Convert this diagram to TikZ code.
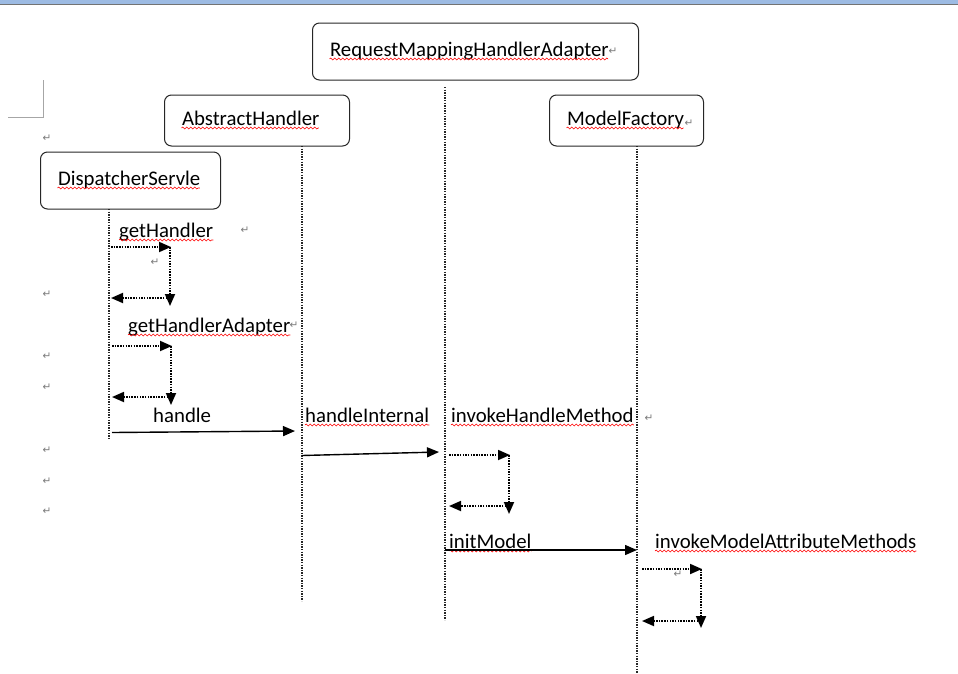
\documentclass[tikz,border=0pt]{standalone}
\usepackage{fontspec}
\setmainfont{Carlito}
\newfontfamily\markfont{DejaVu Sans}
\usetikzlibrary{arrows.meta,decorations.pathmorphing}
\definecolor{barblue}{HTML}{9DBBE3}
\definecolor{markgray}{HTML}{7A7A7A}
\tikzset{
  objbox/.style={draw=black!85, line width=1pt, rounded corners=7pt, anchor=west, align=left,
    inner xsep=17.5pt, text height=14pt, text depth=5pt, text width=#1},
  msg/.style={inner sep=0pt, anchor=base west},
  life/.style={black!85, line width=1.3pt, dash pattern=on 1.3pt off 1.3pt},
  call/.style={-{Triangle[length=12pt,width=10pt]}, black, line width=1.4pt},
  selfcall/.style={-{Triangle[length=12pt,width=10pt]}, black, line width=1.8pt, dash pattern=on 1.5pt off 1.2pt},
  retmark/.style={markgray, font=\markfont\fontsize{10.5}{11}\selectfont, inner sep=0pt},
  spell/.style={red, line width=0.6pt, decorate, decoration={snake, segment length=4pt, amplitude=1pt}}
}
\begin{document}
\begin{tikzpicture}[x=1pt, y=-1pt]
  \fontsize{20.8}{25}\selectfont
  \useasboundingbox (0,0) rectangle (958,673);
  % window edge and page corner
  \fill[barblue] (0,0) rectangle (958,4);
  \draw[black!55, line width=1pt] (0,4.5) -- (958,4.5);
  \draw[black!35, line width=0.8pt] (43,80) -- (43,117) -- (8,117);

  % objects
  \node[objbox=291pt, minimum height=57pt] (rmha) at (312,51.5) {RequestMappingHandlerAdapter};
  \node[objbox=150pt, minimum height=51pt] (abst) at (164,120.5) {AbstractHandler};
  \node[objbox=119pt, minimum height=51pt] (mfac) at (549,120.5) {ModelFactory};
  \node[objbox=145pt, minimum height=57pt] (disp) at (40,180.5) {DispatcherServle};

  % lifelines
  \coordinate (dtop) at (109,209); \coordinate (dbot) at (109,438);
  \coordinate (atop) at (302,146); \coordinate (abot) at (302,601);
  \coordinate (rtop) at (445,87);  \coordinate (rbot) at (445,620);
  \coordinate (mtop) at (637,146); \coordinate (mbot) at (637,673);
  \draw[life] (dtop) -- (dbot);
  \draw[life] (atop) -- (abot);
  \draw[life] (rtop) -- (rbot);
  \draw[life] (mtop) -- (mbot);

  % message labels
  \node[msg] (gh) at (119,237) {getHandler};
  \node[msg] (gha) at (128,332) {getHandlerAdapter};
  \node[msg] (hd) at (153,422) {handle};
  \node[msg] (hi) at (305,422) {handleInternal};
  \node[msg] (ihm) at (451,422) {invokeHandleMethod};
  \node[msg] (im) at (449,548) {initModel};
  \node[msg] (imam) at (655,548) {invokeModelAttributeMethods};

  % spell check marks
  \foreach \n/\txt in {rmha/RequestMappingHandlerAdapter, abst/AbstractHandler, mfac/ModelFactory, disp/DispatcherServle}{
    \pgfmathsetmacro{\w}{width("\txt")}
    \draw[spell] ([xshift=17.5pt, yshift=-3pt]\n.base west) -- ++(\w pt, 0);
  }
  \foreach \n in {gh, gha, hi, ihm, im, imam}
    \draw[spell] ([yshift=-3pt]\n.base west) -- ([yshift=-3pt]\n.base east);

  % calls
  \coordinate (hd1) at (112,432.5); \coordinate (hd2) at (295,431);
  \coordinate (hi1) at (302,455.5); \coordinate (hi2) at (439,452);
  \coordinate (im1) at (445,550);   \coordinate (im2) at (637,550);
  \draw[call] (hd1) -- (hd2);
  \draw[call] (hi1) -- (hi2);
  \draw[call] (im1) -- (im2);

  % self calls
  \foreach \xa/\xb/\ya/\yb/\yc [count=\i] in {111/171/247/306/298, 112/172/346/405/397, 449/510/455/514/506, 642/702/569/628/621}{
    \coordinate (s\i-a) at (\xa,\ya);
    \coordinate (s\i-b) at (\xb,\ya);
    \coordinate (s\i-c) at (\xb-1,\yb);
    \coordinate (s\i-d) at (\xb-4,\yc);
    \coordinate (s\i-e) at (\xa,\yc);
    \draw[selfcall] (s\i-a) -- (s\i-b);
    \draw[selfcall] ([xshift=-1pt]s\i-b) -- (s\i-c);
    \draw[selfcall] (s\i-d) -- (s\i-e);
  }

  % paragraph marks
  \foreach \x/\y [count=\i] in {47/138, 47/294, 47/356, 47/387, 47/450, 47/481, 47/511,
      245/230, 155/262, 294/325, 613/51, 689/123, 649/418, 678/574}
    \node[retmark] (ret\i) at (\x,\y) {↵};
\end{tikzpicture}
\end{document}
